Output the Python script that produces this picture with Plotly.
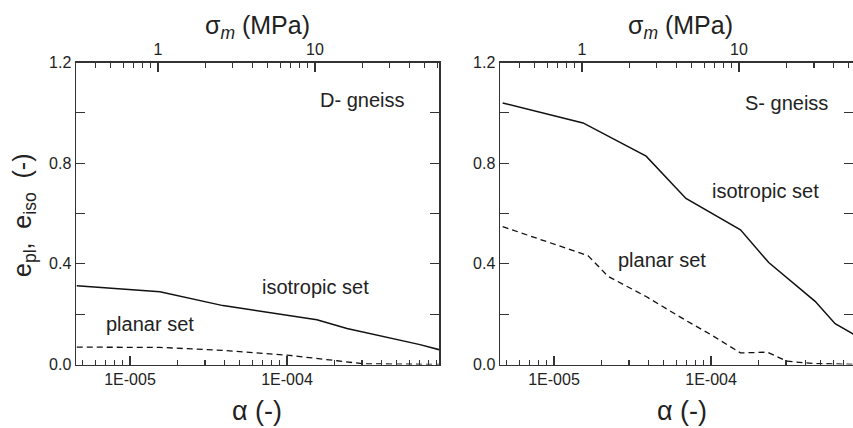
import math
import plotly.graph_objects as go

# ---------------- data ----------------
# D-gneiss (left panel)
d_iso_alpha = [4.58e-6, 1.55e-5, 3.91e-5, 1.55e-4, 2.41e-4, 7.03e-4, 9.29e-4]
d_iso_e = [0.313, 0.289, 0.234, 0.178, 0.143, 0.079, 0.059]
d_pl_alpha = [4.58e-6, 1.55e-5, 3.91e-5, 1.04e-4, 2.08e-4, 3.05e-4, 9.29e-4]
d_pl_e = [0.069, 0.068, 0.056, 0.036, 0.015, 0.003, 0.0]

# S-gneiss (right panel)
s_iso_alpha = [4.71e-6, 1.53e-5, 3.86e-5, 6.92e-5, 1.54e-4, 2.33e-4, 4.60e-4, 6.17e-4, 7.96e-4, 9.29e-4]
s_iso_e = [1.039, 0.960, 0.828, 0.660, 0.535, 0.405, 0.251, 0.162, 0.123, 0.09]
s_pl_alpha = [4.71e-6, 1.65e-5, 2.21e-5, 3.86e-5, 6.92e-5, 9.95e-5, 1.54e-4, 2.28e-4, 3.05e-4, 4.47e-4, 9.29e-4]
s_pl_e = [0.548, 0.432, 0.350, 0.270, 0.175, 0.119, 0.046, 0.049, 0.013, 0.004, 0.0]

alpha_tick_vals = [1e-5, 1e-4]
alpha_tick_text = ["1E-005", "1E-004"]
sigma_tick_vals = [1, 10]
sigma_tick_text = ["1", "10"]
y_tick_vals = [0.0, 0.4, 0.8, 1.2]
y_tick_text = ["0.0", "0.4", "0.8", "1.2"]
y_minor_vals = [0.2, 0.6, 1.0]

# ---------------- geometry ----------------
W, H = 853, 428
FONT = "Liberation Sans, Arial, Helvetica, sans-serif"
AX = "#333333"
LOG_SHIFT = 4.822  # log10(sigma_m / alpha)
x_range_L = [-5.344, -3.032]
x_range_R = [-5.344, -3.096]

def px(x):
    return x / W

def py(y):
    return (H - y) / H

dom_L = [px(76), px(439)]
dom_R = [px(500), 1.0]
dom_y = [py(364.5), py(62.5)]

alpha_minor = [m * 10 ** k for k in (-6, -5, -4) for m in range(2, 10)]
sigma_minor = [m * 10 ** k for k in (-1, 0, 1) for m in range(2, 10)]

fig = go.Figure()

solid = dict(color="#111111", width=1.5)
dashed = dict(color="#111111", width=1.3, dash="6px,4px")

fig.add_trace(go.Scatter(x=d_iso_alpha, y=d_iso_e, mode="lines", line=solid, xaxis="x", yaxis="y"))
fig.add_trace(go.Scatter(x=d_pl_alpha, y=d_pl_e, mode="lines", line=dashed, xaxis="x", yaxis="y"))
fig.add_trace(go.Scatter(x=s_iso_alpha, y=s_iso_e, mode="lines", line=solid, xaxis="x2", yaxis="y2"))
fig.add_trace(go.Scatter(x=s_pl_alpha, y=s_pl_e, mode="lines", line=dashed, xaxis="x2", yaxis="y2"))
# dummy traces so the top sigma axes are drawn
fig.add_trace(go.Scatter(x=sigma_tick_vals, y=[None, None], mode="lines", xaxis="x3", yaxis="y", hoverinfo="skip"))
fig.add_trace(go.Scatter(x=sigma_tick_vals, y=[None, None], mode="lines", xaxis="x4", yaxis="y2", hoverinfo="skip"))

tickfont = dict(family=FONT, size=16, color="#222222")

def alpha_axis(dom, rng, anchor):
    return dict(type="log", domain=dom, range=rng, anchor=anchor, automargin=False,
                showline=True, linecolor=AX, linewidth=1.5, mirror=False,
                ticks="inside", ticklen=9, tickwidth=1.3, tickcolor=AX,
                tickvals=alpha_tick_vals, ticktext=alpha_tick_text,
                tickfont=tickfont, showgrid=False, zeroline=False,
                minor=dict(tickvals=alpha_minor, ticks="inside", ticklen=5,
                           tickwidth=1.2, tickcolor=AX, showgrid=False))

def sigma_axis(over, rng, anchor):
    return dict(type="log", overlaying=over, side="top", anchor=anchor, automargin=False,
                range=[rng[0] + LOG_SHIFT, rng[1] + LOG_SHIFT],
                showline=True, linecolor=AX, linewidth=1.5,
                ticks="inside", ticklen=9, tickwidth=1.3, tickcolor=AX,
                tickvals=sigma_tick_vals, ticktext=sigma_tick_text,
                tickfont=tickfont, showgrid=False, zeroline=False,
                minor=dict(tickvals=sigma_minor, ticks="inside", ticklen=5,
                           tickwidth=1.2, tickcolor=AX, showgrid=False))

def y_axis(anchor):
    return dict(domain=dom_y, range=[0, 1.2], anchor=anchor, automargin=False,
                showline=True, linecolor=AX, linewidth=1.5, mirror="ticks",
                ticks="inside", ticklen=9, tickwidth=1.3, tickcolor=AX,
                tickvals=y_tick_vals, ticktext=y_tick_text,
                tickfont=tickfont, showgrid=False, zeroline=False,
                minor=dict(tickvals=y_minor_vals, ticks="inside", ticklen=9,
                           tickwidth=1.3, tickcolor=AX, showgrid=False))

fig.update_layout(
    width=W, height=H,
    margin=dict(l=0, r=0, t=0, b=0, autoexpand=False),
    paper_bgcolor="white", plot_bgcolor="white",
    showlegend=False,
    font=dict(family=FONT, color="#222222"),
    xaxis=alpha_axis(dom_L, x_range_L, "y"),
    xaxis2=alpha_axis(dom_R, x_range_R, "y2"),
    xaxis3=sigma_axis("x", x_range_L, "y"),
    xaxis4=sigma_axis("x2", x_range_R, "y2"),
    yaxis=y_axis("x"),
    yaxis2=y_axis("x2"),
)

def ann(text, x, y, size, angle=0):
    fig.add_annotation(text=text, x=px(x), y=py(y), xref="paper", yref="paper",
                       showarrow=False, textangle=angle,
                       font=dict(family=FONT, size=size, color="#222222"),
                       xanchor="center", yanchor="middle")

ann("D- gneiss", 362, 100, 20)
ann("isotropic set", 315, 287, 20)
ann("planar set", 150, 324, 20)
ann("S- gneiss", 786, 103, 20)
ann("isotropic set", 765, 191, 20)
ann("planar set", 662, 260, 20)
ann("σ<sub><i>m</i></sub> (MPa)", 257, 27, 25)
ann("σ<sub><i>m</i></sub> (MPa)", 680, 27, 25)
ann("α (-)", 257, 411, 27)
ann("α (-)", 682, 411, 27)
ann("e<sub>pl</sub>,  e<sub>iso</sub>  (-)", 24, 215, 25, angle=-90)

fig.write_html(
    "out.html",
    config={"displayModeBar": False, "staticPlot": True},
    post_script="document.body.style.margin='0';document.body.style.overflow='hidden';",
)
